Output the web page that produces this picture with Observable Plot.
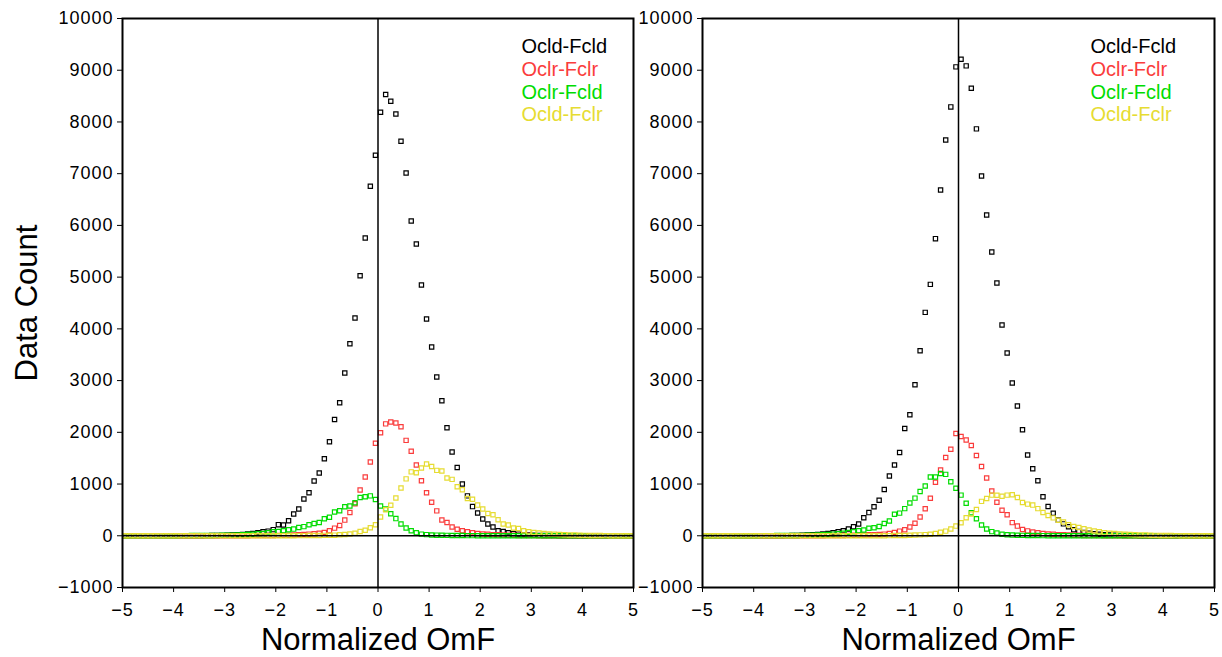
<!DOCTYPE html>
<html>
<head>
<meta charset="utf-8">
<script src="https://cdn.jsdelivr.net/npm/d3@7"></script>
<script src="https://cdn.jsdelivr.net/npm/@observablehq/plot@0.6"></script>
<style>
  html, body { margin: 0; padding: 0; background: #fff; }
  #wrap { position: relative; width: 1222px; height: 657px; overflow: hidden; background: #fff; }
  #left { position: absolute; left: 0; top: 0; }
  #right { position: absolute; left: 640px; top: 0; }
</style>
</head>
<body>
<div id="wrap"><div id="left"></div><div id="right"></div></div>
<script>
// Bin centers of Normalized OmF
const bins = [
  -4.95,-4.85,-4.75,-4.65,-4.55,-4.45,-4.35,-4.25,-4.15,-4.05,
  -3.95,-3.85,-3.75,-3.65,-3.55,-3.45,-3.35,-3.25,-3.15,-3.05,
  -2.95,-2.85,-2.75,-2.65,-2.55,-2.45,-2.35,-2.25,-2.15,-2.05,
  -1.95,-1.85,-1.75,-1.65,-1.55,-1.45,-1.35,-1.25,-1.15,-1.05,
  -0.95,-0.85,-0.75,-0.65,-0.55,-0.45,-0.35,-0.25,-0.15,-0.05,
  0.05,0.15,0.25,0.35,0.45,0.55,0.65,0.75,0.85,0.95,
  1.05,1.15,1.25,1.35,1.45,1.55,1.65,1.75,1.85,1.95,
  2.05,2.15,2.25,2.35,2.45,2.55,2.65,2.75,2.85,2.95,
  3.05,3.15,3.25,3.35,3.45,3.55,3.65,3.75,3.85,3.95,
  4.05,4.15,4.25,4.35,4.45,4.55,4.65,4.75,4.85,4.95
];

const seriesNames = ["Ocld-Fcld", "Oclr-Fclr", "Oclr-Fcld", "Ocld-Fclr"];
const seriesColors = ["rgb(0,0,0)", "rgb(250,60,60)", "rgb(0,220,0)", "rgb(230,220,50)"];

const xTicks = [-5, -4, -3, -2, -1, 0, 1, 2, 3, 4, 5];
const yTicks = [-1000, 0, 1000, 2000, 3000, 4000, 5000, 6000, 7000, 8000, 9000, 10000];

// Left panel
const leftOcldFcld = [
  0,0,0,0,0,0,0,0,0,0,
  0,0,1,1,1,2,3,4,6,8,
  10,15,20,27,35,45,58,77,90,119,
  215,207,290,420,516,710,830,1058,1212,1489,
  1818,2249,2572,3146,3713,4210,5028,5757,6756,7355,
  8187,8529,8400,8155,7626,7014,6086,5641,4848,4191,
  3649,3069,2611,2089,1619,1321,1000,771,564,442,
  326,226,170,97,83,58,45,32,22,16,
  11,8,6,4,3,2,2,1,1,0,
  0,0,0,0,0,0,0,0,0,0
];
const leftOclrFclr = [
  0,0,0,0,0,0,0,0,0,0,
  0,0,0,0,0,0,0,0,0,0,
  0,0,0,1,2,3,4,5,6,7,
  8,10,12,15,20,25,32,40,50,64,
  97,148,200,303,451,620,883,1135,1425,1790,
  1992,2163,2198,2182,2108,1844,1635,1367,1062,830,
  648,481,306,255,168,125,97,77,58,45,
  35,28,22,18,14,11,9,7,5,4,
  3,2,2,1,0,0,0,0,0,0,
  0,0,0,0,0,0,0,0,0,0
];
const leftOclrFcld = [
  0,0,0,0,1,1,1,1,2,2,
  2,3,3,4,4,5,6,7,8,9,
  10,12,15,20,25,30,38,45,58,77,
  83,97,116,129,161,177,213,238,258,330,
  358,458,483,561,574,640,741,754,771,703,
  574,516,425,332,226,150,97,58,32,22,
  15,12,10,8,6,5,4,3,3,2,
  2,1,1,0,0,0,0,0,0,0,
  0,0,0,0,0,0,0,0,0,0,
  0,0,0,0,0,0,0,0,0,0
];
const leftOcldFclr = [
  0,0,0,0,0,0,0,0,0,0,
  0,0,0,0,0,0,0,0,0,0,
  0,0,0,0,0,0,0,0,0,0,
  1,1,2,2,3,3,4,5,6,8,
  10,12,18,25,35,50,84,106,155,213,
  364,503,590,731,922,1100,1235,1218,1309,1386,
  1341,1264,1251,1115,1090,948,890,720,705,593,
  516,432,406,309,226,207,149,142,97,77,
  64,55,45,36,30,24,20,16,13,10,
  8,6,5,4,3,2,2,1,1,0
];

// Right panel
const rightOcldFcld = [
  0,0,0,0,0,0,0,0,0,0,
  0,0,0,1,1,2,3,5,7,10,
  14,19,26,35,45,58,77,97,129,175,
  226,348,448,561,685,896,1155,1367,1611,2075,
  2340,2920,3578,4319,4860,5744,6686,7653,8291,9065,
  9212,9084,8651,7866,6957,6203,5487,4887,4075,3533,
  2953,2508,2050,1561,1296,1064,754,565,435,303,
  230,174,115,83,64,50,38,28,20,15,
  10,8,6,4,3,2,1,1,0,0,
  0,0,0,0,0,0,0,0,0,0
];
const rightOclrFclr = [
  0,0,0,0,0,0,0,0,0,0,
  0,0,0,0,0,0,0,0,0,0,
  0,0,0,2,3,4,5,6,8,10,
  12,15,18,22,26,32,45,64,90,116,
  168,242,364,522,725,1035,1270,1512,1673,1978,
  1918,1853,1746,1550,1338,1115,864,648,494,406,
  254,187,123,95,73,58,45,35,28,22,
  18,14,11,9,7,5,4,3,2,1,
  1,0,0,0,0,0,0,0,0,0,
  0,0,0,0,0,0,0,0,0,0
];
const rightOclrFcld = [
  0,0,0,0,1,1,1,1,2,2,
  2,3,3,3,4,4,5,6,7,8,
  10,12,15,20,25,32,40,50,62,77,
  97,113,145,155,180,238,284,416,438,525,
  635,728,854,964,1135,1138,1205,1187,1044,918,
  786,628,444,328,210,132,80,52,28,18,
  13,10,8,6,5,4,3,2,2,1,
  1,0,0,0,0,0,0,0,0,0,
  0,0,0,0,0,0,0,0,0,0,
  0,0,0,0,0,0,0,0,0,0
];
const rightOcldFclr = [
  0,0,0,0,0,0,0,0,0,0,
  0,0,0,0,0,0,0,0,0,0,
  0,0,0,0,0,0,0,0,0,0,
  0,0,0,1,1,2,3,4,5,7,
  10,13,17,22,30,45,67,90,132,187,
  251,348,420,509,665,722,786,783,764,786,
  793,740,642,612,593,525,450,393,346,300,
  265,213,180,160,135,110,91,77,58,50,
  45,35,30,25,20,16,13,10,8,6,
  5,4,3,2,2,1,1,0,0,0
];

const leftSeries = [leftOcldFcld, leftOclrFclr, leftOclrFcld, leftOcldFclr];
const rightSeries = [rightOcldFcld, rightOclrFclr, rightOclrFcld, rightOcldFclr];

const FONT = "'Liberation Sans', Arial, sans-serif";

function panel({series, width, marginLeft, marginRight, yLabel, legendDx}) {
  const marks = [];
  series.forEach((vals, s) => {
    const rows = bins.map((b, i) => ({bin: b, count: vals[i]}));
    marks.push(Plot.dot(rows, {
      x: "bin", y: "count", symbol: "square", r: 2.4,
      fill: "none", stroke: seriesColors[s], strokeWidth: 1.2
    }));
  });
  marks.push(Plot.ruleX([0], {stroke: "black", strokeWidth: 1.5}));
  marks.push(Plot.ruleY([0], {stroke: "black", strokeWidth: 1.5}));
  marks.push(Plot.frame({stroke: "black", strokeWidth: 2}));
  marks.push(Plot.axisX({
    ticks: xTicks, tickSize: 5, tickPadding: 11, tickFormat: d => d < 0 ? "\u2212" + Math.abs(d) : String(d),
    label: "Normalized OmF", labelAnchor: "center", labelArrow: "none", labelOffset: 62
  }));
  marks.push(Plot.axisY({
    ticks: yTicks, tickSize: 5, tickPadding: 4, tickFormat: d => d < 0 ? "\u2212" + Math.abs(d) : String(d),
    label: yLabel, labelAnchor: "center", labelArrow: "none", labelOffset: 108
  }));
  const rowDy = [28, 51, 74, 96];
  seriesNames.forEach((name, s) => {
    marks.push(Plot.text([name], {
      frameAnchor: "top-right", text: d => d, textAnchor: "start",
      dx: -legendDx, dy: rowDy[s], lineAnchor: "middle",
      fill: seriesColors[s], fontSize: 20
    }));
  });
  const svg = Plot.plot({
    width, height: 657,
    marginLeft, marginRight, marginTop: 18, marginBottom: 70,
    style: {fontFamily: FONT, fontSize: "18px", background: "white", color: "black", overflow: "visible"},
    x: {domain: [-5, 5]},
    y: {domain: [-1000, 10000]},
    marks
  });
  const sel = d3.select(svg);
  sel.selectAll('[aria-label="x-axis label"], [aria-label="y-axis label"]').style("font-size", "31px");
  sel.selectAll('[aria-label="x-axis tick label"], [aria-label="y-axis tick label"]').style("letter-spacing", "1px");
  return svg;
}

document.getElementById("left").appendChild(panel({
  series: leftSeries, width: 640, marginLeft: 122, marginRight: 7, yLabel: "Data Count", legendDx: 112
}));
document.getElementById("right").appendChild(panel({
  series: rightSeries, width: 582, marginLeft: 62, marginRight: 8, yLabel: null, legendDx: 124
}));
</script>
</body>
</html>
